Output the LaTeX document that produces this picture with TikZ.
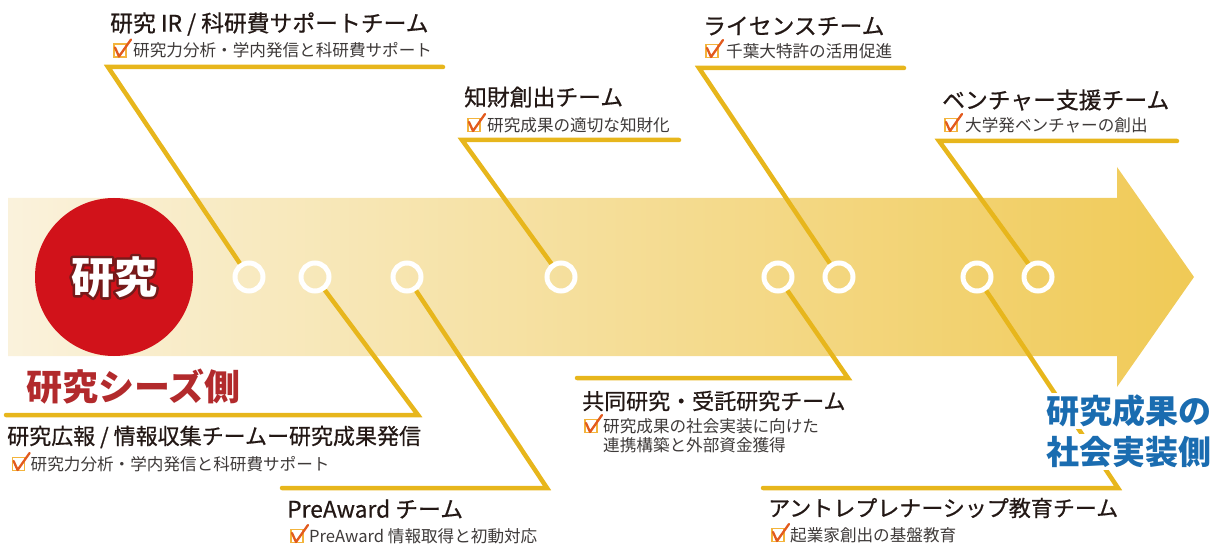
\documentclass[tikz,border=0pt]{standalone}
\usepackage{fontspec}
\setmainfont{Noto Sans CJK JP}
\newfontfamily\tfont[FakeBold=0.6]{Noto Sans CJK JP}
\newcommand\strokedtext[1]{\special{pdf:literal direct 2 Tr 5 w 1 j}#1\special{pdf:literal direct 0 Tr 1 w}}
\definecolor{gold}{RGB}{231,182,28}
\definecolor{tcol}{RGB}{35,24,21}
\definecolor{scol}{RGB}{62,58,57}
\definecolor{seeds}{RGB}{178,42,44}
\definecolor{blueone}{RGB}{26,108,176}
\definecolor{redone}{RGB}{209,18,26}
\definecolor{outl}{RGB}{118,26,26}
\definecolor{chkbox}{RGB}{243,180,60}
\definecolor{chkmark}{RGB}{226,90,30}
\definecolor{arrL}{RGB}{250,242,220}
\definecolor{arrR}{RGB}{240,202,86}
\begin{document}
\begin{tikzpicture}[x=1pt,y=-1pt,
  title/.style={anchor=west, inner sep=0pt, font=\tfont\fontsize{22}{26}\selectfont, text=tcol},
  titleL/.style={title, font=\tfont\fontsize{22.8}{26}\selectfont},
  sub/.style={anchor=west, inner sep=0pt, font=\fontsize{16.6}{19}\selectfont, text=scol},
  conn/.style={draw=gold, line width=4.5pt, line cap=round, line join=miter},
  ringpos/.style={circle, line width=5pt, minimum size=28pt, inner sep=0pt},
  ring/.style={ringpos, draw=white},
  bigt/.style={inner sep=0pt, font=\bfseries\fontsize{43}{46}\selectfont},
  pics/chk/.style={code={
    \draw[chkbox, line width=1.3pt] (0,-6.5) rectangle (12,6.5);
    \draw[chkmark, line width=2.3pt, line join=round, line cap=round] (1,-3) -- (5,6) -- (17,-11);
  }}]
\useasboundingbox (0,0) rectangle (1218,545);
% arrow
\shade[left color=arrL, right color=arrR] (8,198) -- (1117,198) -- (1117,167) -- (1194,277) -- (1117,387) -- (1117,356) -- (8,356) -- cycle;
% red circle
\node[circle, fill=redone, minimum size=158pt, inner sep=0pt] (rc) at (114,277) {};
\node[bigt, text=outl] (rco) at (rc) {\strokedtext{研究}};
\node[bigt, text=white] (rct) at (rc) {研究};
% ring positions
\node[ringpos] (c1) at (249,277) {};
\node[ringpos] (c2) at (315,277) {};
\node[ringpos] (c3) at (407,277) {};
\node[ringpos] (c4) at (561,277) {};
\node[ringpos] (c5) at (778,277) {};
\node[ringpos] (c6) at (839,277) {};
\node[ringpos] (c7) at (977,277) {};
\node[ringpos] (c8) at (1038,277) {};
% corner coordinates
\coordinate (a1) at (443,67);  \coordinate (k1) at (108,67);
\coordinate (a2) at (679,140); \coordinate (k2) at (462,140);
\coordinate (a3) at (904,68);  \coordinate (k3) at (699,68);
\coordinate (a4) at (1177,141); \coordinate (k4) at (939,141);
\coordinate (a5) at (6,415);   \coordinate (k5) at (418,415);
\coordinate (a6) at (282,488); \coordinate (k6) at (547,488);
\coordinate (a7) at (577,378); \coordinate (k7) at (848,378);
\coordinate (a8) at (763,488); \coordinate (k8) at (1118,488);
\draw[conn] (a1) -- (k1) -- (c1);
\draw[conn] (a2) -- (k2) -- (c4);
\draw[conn] (a3) -- (k3) -- (c6);
\draw[conn] (a4) -- (k4) -- (c8);
\draw[conn] (a5) -- (k5) -- (c2);
\draw[conn] (a6) -- (k6) -- (c3);
\draw[conn] (a7) -- (k7) -- (c5);
\draw[conn] (a8) -- (k8) -- (c7);
% rings on top
\foreach \n/\x in {1/249,2/315,3/407,4/561,5/778,6/839,7/977,8/1038} \node[ring] (r\n) at (\x,277) {};
% titles
\node[titleL] (t1) at (110,24) {研究 IR / 科研費サポートチーム};
\node[titleL] (t2) at (464,97) {知財創出チーム};
\node[titleL] (t3) at (703,26) {ライセンスチーム};
\node[titleL] (t4) at (942,100) {ベンチャー支援チーム};
\node[title] (t5) at (7,437) {研究広報 / 情報収集チームー研究成果発信};
\node[titleL] (t6) at (287,509) {PreAward チーム};
\node[title] (t7) at (582,401) {共同研究・受託研究チーム};
\node[title] (t8) at (768,508) {アントレプレナーシップ教育チーム};
% subs
\pic at (114,50.5) {chk}; \node[sub] (s1) at (133,50.5) {研究力分析・学内発信と科研費サポート};
\pic at (468,125) {chk};  \node[sub] (s2) at (487,125) {研究成果の適切な知財化};
\pic at (706,51) {chk};   \node[sub] (s3) at (726,51) {千葉大特許の活用促進};
\pic at (945,125) {chk};  \node[sub] (s4) at (965,125) {大学発ベンチャーの創出};
\pic at (12.6,464) {chk}; \node[sub] (s5) at (30.5,464) {研究力分析・学内発信と科研費サポート};
\pic at (291,536) {chk};  \node[sub] (s6) at (309,536) {PreAward 情報取得と初動対応};
\pic at (585,426) {chk};  \node[sub] (s7) at (603,426) {研究成果の社会実装に向けた};
\node[sub] (s7b) at (603,445) {連携構築と外部資金獲得};
\pic at (772,535) {chk};  \node[sub] (s8) at (790,535) {起業家創出の基盤教育};
% side labels
\node[anchor=west, inner sep=0pt, font=\bfseries\fontsize{36}{40}\selectfont, text=seeds] (seedlbl) at (26,387) {研究シーズ側};
\node[anchor=west, inner sep=2pt, fill=white, font=\bfseries\fontsize{33}{38}\selectfont, text=blueone] (bl1) at (1044,411) {研究成果の};
\node[anchor=west, inner sep=2pt, fill=white, font=\bfseries\fontsize{33}{38}\selectfont, text=blueone] (bl2) at (1044,452) {社会実装側};
\end{tikzpicture}
\end{document}
